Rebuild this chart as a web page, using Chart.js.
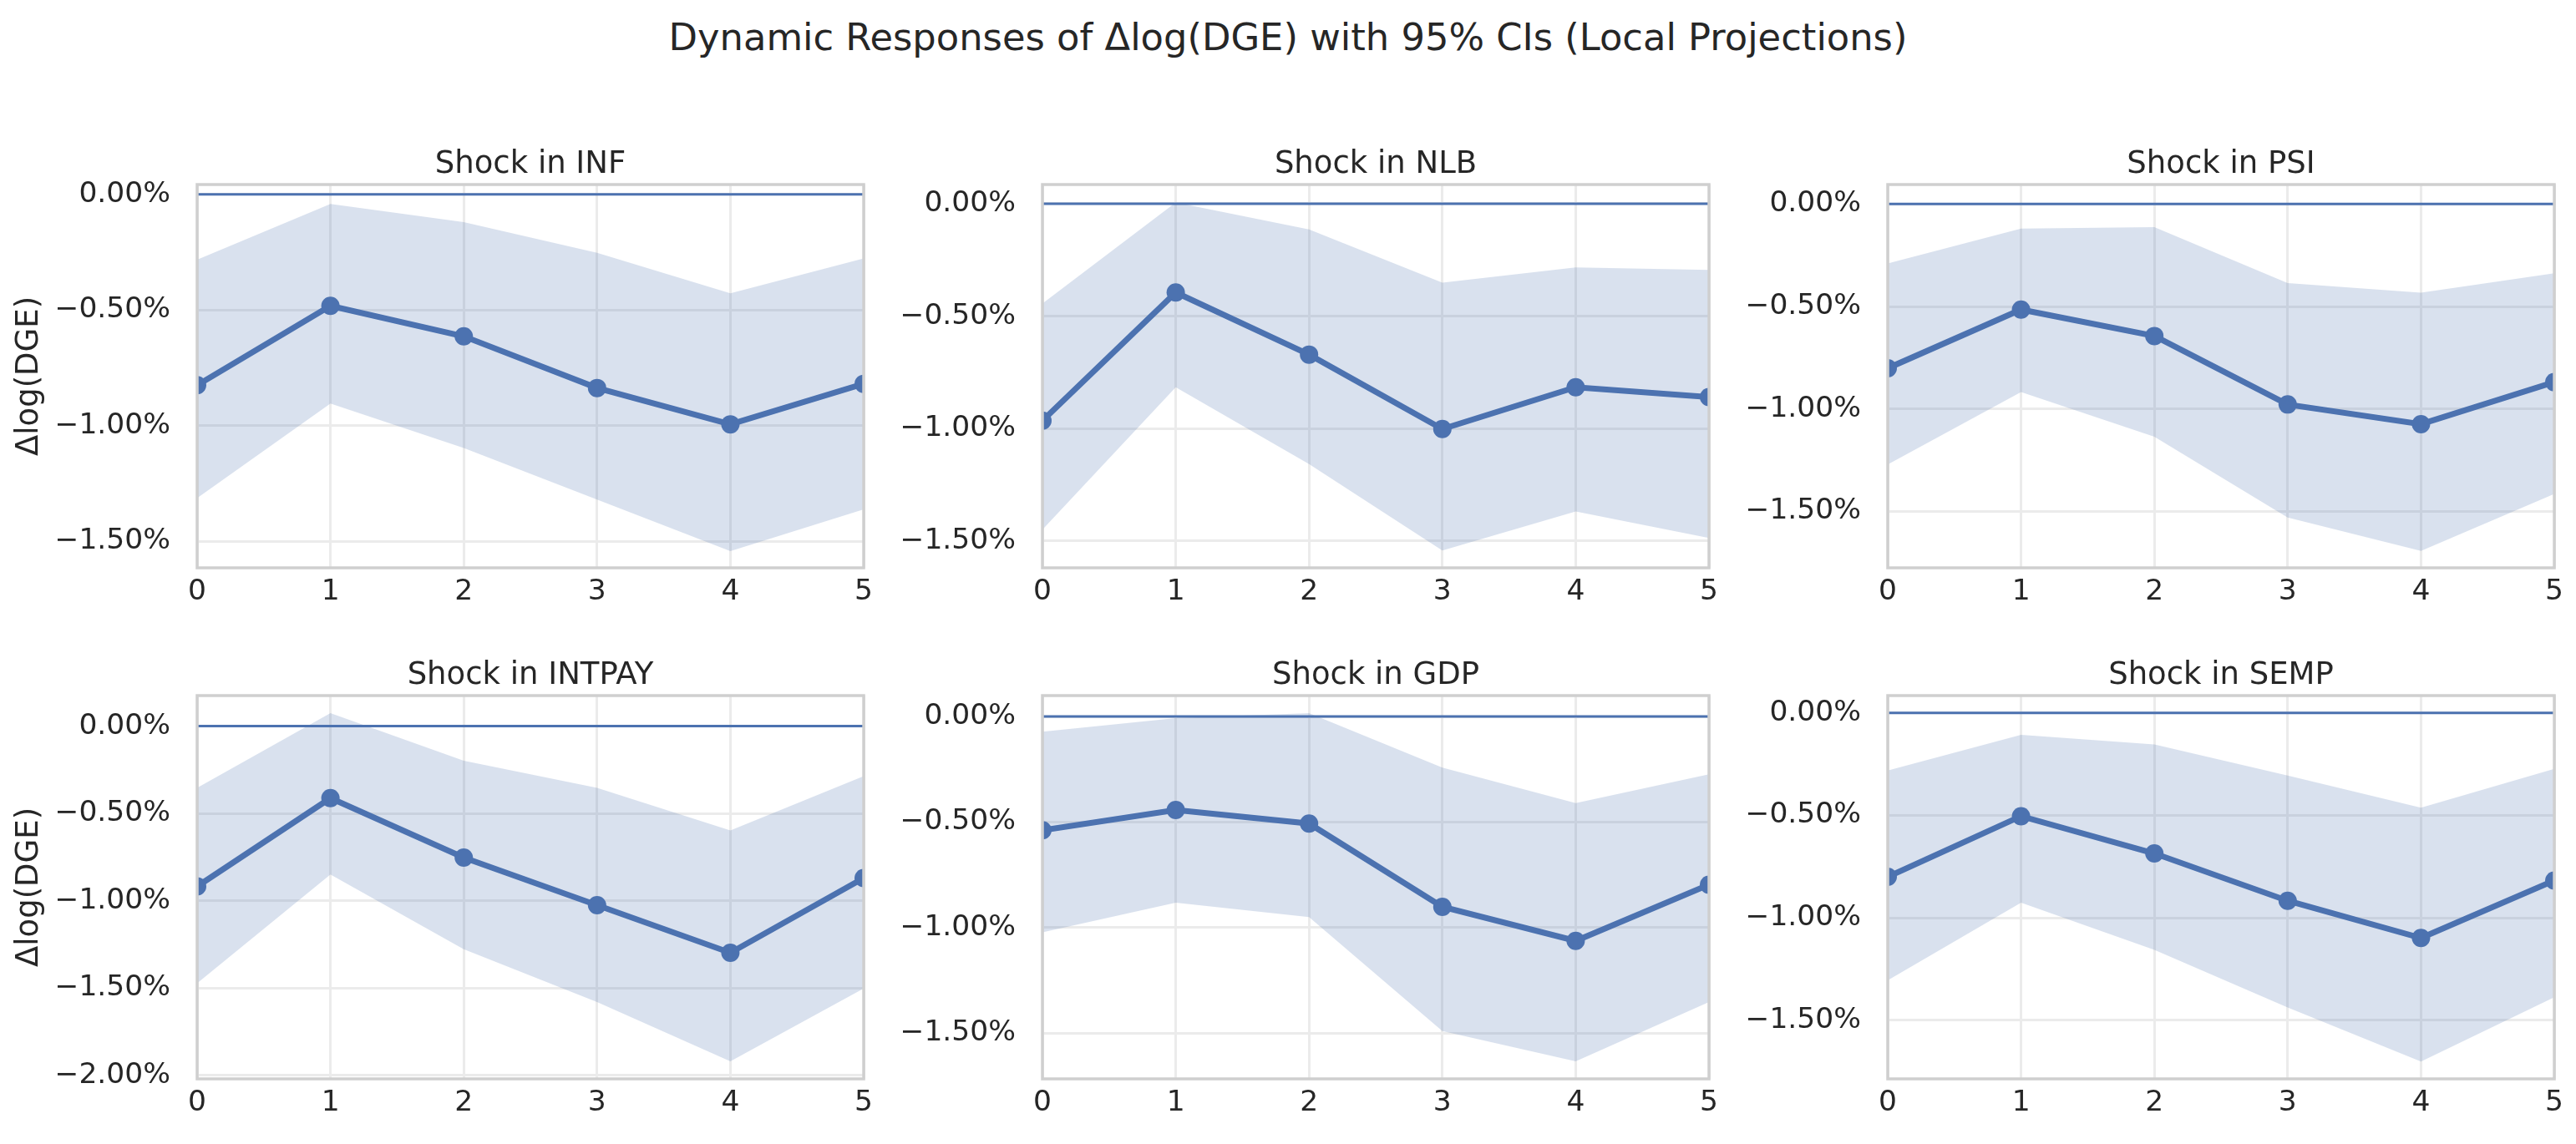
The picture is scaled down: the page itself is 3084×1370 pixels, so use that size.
<!DOCTYPE html>
<html>
<head>
<meta charset="utf-8">
<script src="https://cdn.jsdelivr.net/npm/chart.js@4.4.1/dist/chart.umd.min.js"></script>
<style>
  html, body { margin: 0; padding: 0; background: #fff; }
  body { width: 3084px; height: 1370px; position: relative; overflow: hidden; font-family: "DejaVu Sans", sans-serif; }
  #suptitle { position: absolute; left: 0; top: 21px; width: 3084px; text-align: center; font-size: 44.8px; line-height: 48px; color: #262626; }
  canvas { position: absolute; }
</style>
</head>
<body>
<div id="suptitle">Dynamic Responses of Δlog(DGE) with 95% CIs (Local Projections)</div>
<script>
// horizons and shocks
const horizons = ['0', '1', '2', '3', '4', '5'];
const shockNames = ['INF', 'NLB', 'PSI', 'INTPAY', 'GDP', 'SEMP'];

// responses of dlog(DGE), in %
const irfINF = [-0.825, -0.482, -0.614, -0.837, -0.994, -0.819];
const hiINF = [-0.283, -0.042, -0.120, -0.253, -0.428, -0.277];
const loINF = [-1.313, -0.904, -1.096, -1.319, -1.542, -1.361];

const irfNLB = [-0.965, -0.395, -0.671, -1.002, -0.816, -0.860];
const hiNLB = [-0.444, 0.005, -0.115, -0.351, -0.283, -0.295];
const loNLB = [-1.449, -0.816, -1.158, -1.542, -1.368, -1.486];

const irfPSI = [-0.801, -0.515, -0.644, -0.978, -1.074, -0.869];
const hiPSI = [-0.290, -0.120, -0.113, -0.386, -0.433, -0.338];
const loPSI = [-1.271, -0.917, -1.135, -1.530, -1.693, -1.414];

const irfINTPAY = [-0.918, -0.412, -0.753, -1.025, -1.298, -0.870];
const hiINTPAY = [-0.354, 0.074, -0.198, -0.354, -0.597, -0.286];
const loINTPAY = [-1.473, -0.850, -1.278, -1.580, -1.920, -1.502];

const irfGDP = [-0.539, -0.443, -0.507, -0.902, -1.063, -0.797];
const hiGDP = [-0.072, -0.008, 0.016, -0.242, -0.410, -0.274];
const loGDP = [-1.023, -0.882, -0.950, -1.490, -1.634, -1.353];

const irfSEMP = [-0.800, -0.504, -0.686, -0.917, -1.099, -0.818];
const hiSEMP = [-0.281, -0.107, -0.154, -0.306, -0.463, -0.273];
const loSEMP = [-1.306, -0.926, -1.157, -1.438, -1.702, -1.388];

const zeroLine = [0, 0, 0, 0, 0, 0];

// y axis limits per panel (same order as shockNames)
const yMinByShock = [-1.614, -1.619, -1.775, -2.020, -1.717, -1.787];
const yMaxByShock = [0.042, 0.085, 0.095, 0.175, 0.099, 0.085];
const yTicks = [0, -0.5, -1.0, -1.5];
const yTicksWide = [0, -0.5, -1.0, -1.5, -2.0];

const series = [
  { irf: irfINF, lo: loINF, hi: hiINF, ticks: yTicks },
  { irf: irfNLB, lo: loNLB, hi: hiNLB, ticks: yTicks },
  { irf: irfPSI, lo: loPSI, hi: hiPSI, ticks: yTicks },
  { irf: irfINTPAY, lo: loINTPAY, hi: hiINTPAY, ticks: yTicksWide },
  { irf: irfGDP, lo: loGDP, hi: hiGDP, ticks: yTicks },
  { irf: irfSEMP, lo: loSEMP, hi: hiSEMP, ticks: yTicks },
];

// layout (page pixels)
const colLeft = [236, 1248, 2260];
const rowTop = [221, 833];
const plotW = 801;
const plotH = 459;
const yAxisW = 230;
const xAxisH = 90;
const topBlock = 90;
const padRight = 16;
const titleGap = 24;   // plot top to subplot title centre
const titleSize = 37;
const tickSize = 34.5;

const blue = '#4c72b0';
const ink = '#262626';

Chart.defaults.font.family = '"DejaVu Sans", sans-serif';
Chart.defaults.color = ink;

const frameBox = {
  id: 'frameBox',
  afterDatasetsDraw(chart) {
    const { ctx, chartArea: a } = chart;
    ctx.save();
    ctx.strokeStyle = '#cfcfcf';
    ctx.lineWidth = 3.5;
    ctx.strokeRect(a.left, a.top, a.right - a.left, a.bottom - a.top);
    ctx.restore();
  },
};

function pctLabel(v) {
  const s = Math.abs(v).toFixed(2) + '%';
  return v < -1e-9 ? '\u2212' + s : s;
}

function makePanel(i) {
  const col = i % 3;
  const row = Math.floor(i / 3);
  const s = series[i];
  const w = yAxisW + plotW + padRight;
  const h = topBlock + plotH + xAxisH;
  const canvas = document.createElement('canvas');
  canvas.width = w;
  canvas.height = h;
  const left = colLeft[col] - yAxisW;
  canvas.style.left = left + 'px';
  canvas.style.top = (rowTop[row] - topBlock) + 'px';
  canvas.style.width = w + 'px';
  canvas.style.height = h + 'px';
  document.body.appendChild(canvas);

  const lh = titleSize * 1.2;

  new Chart(canvas, {
    type: 'line',
    data: {
      labels: horizons,
      datasets: [
        { data: s.irf, borderColor: blue, backgroundColor: blue, borderWidth: 7, pointRadius: 11, pointBorderWidth: 0, pointBackgroundColor: blue, tension: 0, fill: false, clip: 0 },
        { data: zeroLine, borderColor: blue, borderWidth: 3, pointRadius: 0, fill: false, clip: 0 },
        { data: s.hi, borderWidth: 0, borderColor: 'rgba(0,0,0,0)', pointRadius: 0, backgroundColor: 'rgba(76,114,176,0.21)', fill: '+1', clip: 0 },
        { data: s.lo, borderWidth: 0, borderColor: 'rgba(0,0,0,0)', pointRadius: 0, fill: false, clip: 0 },
      ],
    },
    options: {
      responsive: false,
      animation: false,
      events: [],
      layout: { padding: { left: 0, top: 0, bottom: 0, right: padRight } },
      plugins: {
        legend: { display: false },
        tooltip: { enabled: false },
        title: {
          display: true,
          fullSize: false,
          text: 'Shock in ' + shockNames[i],
          color: ink,
          font: { size: titleSize, weight: 'normal', lineHeight: 1.2 },
          padding: { top: topBlock - titleGap - lh / 2, bottom: titleGap - lh / 2 },
        },
      },
      scales: {
        x: {
          type: 'category',
          offset: false,
          grid: { color: '#ebebeb', lineWidth: 3, drawTicks: false },
          border: { display: false },
          ticks: { font: { size: tickSize }, color: ink, padding: 8, maxRotation: 0, autoSkip: false },
          afterFit: sc => { sc.height = xAxisH; },
        },
        y: {
          min: yMinByShock[i],
          max: yMaxByShock[i],
          grid: { color: '#ebebeb', lineWidth: 3, drawTicks: false },
          border: { display: false },
          ticks: { font: { size: tickSize }, color: ink, padding: 32, callback: pctLabel },
          afterBuildTicks: sc => { sc.ticks = s.ticks.map(v => ({ value: v })); },
          afterFit: sc => { sc.width = yAxisW; },
          title: {
            display: col === 0,
            text: 'Δlog(DGE)',
            color: ink,
            font: { size: titleSize, lineHeight: 1.2 },
            padding: { top: 35 - left - lh / 2, bottom: 0 },
          },
        },
      },
    },
    plugins: [frameBox],
  });
}

shockNames.forEach((_, i) => makePanel(i));
</script>
</body>
</html>
